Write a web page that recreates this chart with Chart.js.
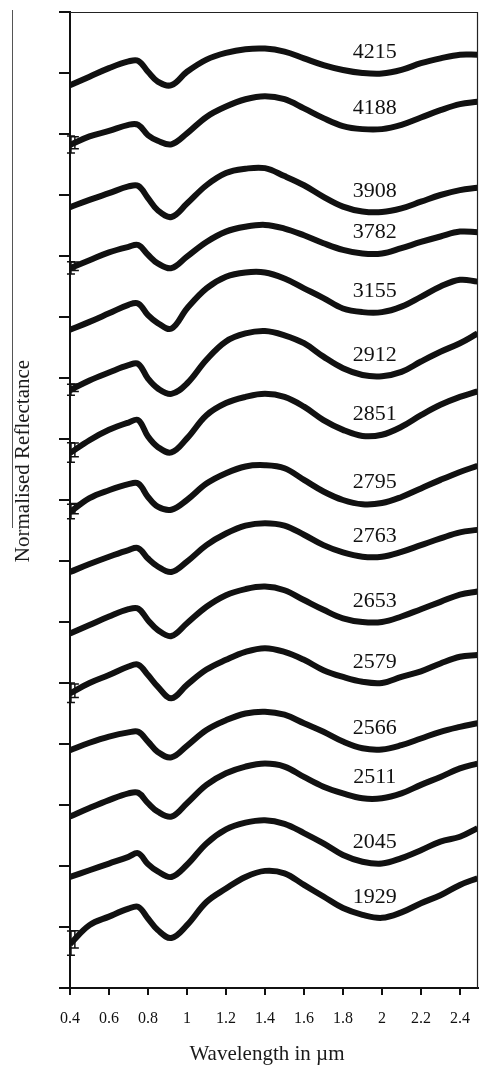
<!DOCTYPE html>
<html>
<head>
<meta charset="utf-8">
<script src="https://cdn.jsdelivr.net/npm/chart.js@4.4.1/dist/chart.umd.min.js"></script>
<style>
  html, body { margin: 0; padding: 0; background: #fff; }
  #wrap { width: 484px; height: 1065px; }
</style>
</head>
<body>
<div id="wrap"><canvas id="c" width="484" height="1065"></canvas></div>
<script>
// Wavelength sampling (µm) shared by all spectra
const wavelengths = [0.4, 0.5, 0.6, 0.7, 0.75, 0.8, 0.85, 0.92, 1.0, 1.1, 1.2, 1.3, 1.4, 1.5, 1.6, 1.7, 1.8, 1.9, 2.0, 2.1, 2.2, 2.3, 2.4, 2.49];

// Normalised reflectance, each spectrum stacked one unit apart
const s4215 = [14.80, 14.94, 15.08, 15.19, 15.20, 15.02, 14.86, 14.80, 15.02, 15.22, 15.33, 15.39, 15.40, 15.35, 15.24, 15.13, 15.05, 15.00, 14.99, 15.05, 15.16, 15.24, 15.30, 15.30];
const s4188 = [13.82, 13.96, 14.05, 14.15, 14.15, 13.98, 13.89, 13.83, 14.01, 14.28, 14.45, 14.57, 14.62, 14.57, 14.42, 14.26, 14.13, 14.08, 14.08, 14.15, 14.27, 14.39, 14.49, 14.53];
const s3908 = [12.80, 12.92, 13.03, 13.14, 13.15, 12.95, 12.75, 12.64, 12.86, 13.16, 13.36, 13.43, 13.44, 13.31, 13.16, 12.97, 12.81, 12.73, 12.72, 12.78, 12.89, 13.00, 13.08, 13.12];
const s3782 = [11.80, 11.93, 12.06, 12.15, 12.18, 12.02, 11.88, 11.80, 11.99, 12.23, 12.40, 12.48, 12.51, 12.45, 12.34, 12.21, 12.10, 12.04, 12.04, 12.13, 12.23, 12.32, 12.40, 12.39];
const s3155 = [10.79, 10.92, 11.06, 11.20, 11.22, 11.03, 10.90, 10.81, 11.14, 11.47, 11.66, 11.73, 11.73, 11.63, 11.47, 11.31, 11.14, 11.08, 11.08, 11.17, 11.33, 11.50, 11.61, 11.58];
const s2912 = [9.80, 9.96, 10.09, 10.21, 10.23, 9.99, 9.83, 9.74, 9.91, 10.30, 10.60, 10.73, 10.77, 10.70, 10.57, 10.35, 10.16, 10.05, 10.03, 10.10, 10.27, 10.43, 10.57, 10.73];
const s2851 = [8.77, 8.98, 9.15, 9.27, 9.31, 9.04, 8.87, 8.78, 9.01, 9.39, 9.59, 9.69, 9.74, 9.69, 9.53, 9.31, 9.15, 9.05, 9.07, 9.20, 9.39, 9.56, 9.69, 9.78];
const s2795 = [7.80, 8.03, 8.16, 8.26, 8.27, 8.05, 7.89, 7.84, 8.00, 8.27, 8.44, 8.55, 8.57, 8.52, 8.33, 8.14, 8.00, 7.93, 7.95, 8.05, 8.19, 8.33, 8.46, 8.56];
const s2763 = [6.82, 6.95, 7.07, 7.18, 7.21, 7.04, 6.91, 6.82, 6.99, 7.26, 7.45, 7.58, 7.62, 7.58, 7.43, 7.26, 7.14, 7.07, 7.07, 7.15, 7.26, 7.37, 7.47, 7.51];
const s2653 = [5.81, 5.95, 6.09, 6.21, 6.22, 6.03, 5.87, 5.77, 5.98, 6.25, 6.44, 6.54, 6.58, 6.52, 6.36, 6.20, 6.06, 6.00, 6.00, 6.09, 6.21, 6.33, 6.45, 6.50];
const s2579 = [4.83, 5.00, 5.13, 5.27, 5.30, 5.13, 4.94, 4.75, 4.97, 5.22, 5.38, 5.51, 5.57, 5.51, 5.38, 5.21, 5.10, 5.02, 5.00, 5.10, 5.19, 5.32, 5.43, 5.46];
const s2566 = [3.90, 4.02, 4.12, 4.19, 4.20, 4.04, 3.87, 3.78, 3.97, 4.23, 4.39, 4.50, 4.53, 4.48, 4.34, 4.20, 4.04, 3.93, 3.91, 3.98, 4.09, 4.20, 4.28, 4.34];
const s2511 = [2.81, 2.95, 3.08, 3.19, 3.20, 3.03, 2.89, 2.81, 3.03, 3.33, 3.52, 3.63, 3.68, 3.63, 3.46, 3.30, 3.19, 3.11, 3.11, 3.19, 3.33, 3.46, 3.60, 3.68];
const s2045 = [1.82, 1.93, 2.04, 2.15, 2.21, 2.03, 1.91, 1.82, 2.02, 2.37, 2.60, 2.71, 2.75, 2.69, 2.54, 2.37, 2.18, 2.07, 2.04, 2.13, 2.26, 2.40, 2.48, 2.62];
const s1929 = [0.72, 1.03, 1.17, 1.30, 1.33, 1.14, 0.95, 0.82, 1.03, 1.41, 1.63, 1.82, 1.92, 1.88, 1.69, 1.50, 1.31, 1.20, 1.15, 1.24, 1.39, 1.52, 1.69, 1.80];

// Half-width of the uncertainty at the blue end (0.4 µm) of each spectrum
const blueEndError = [0.03, 0.14, 0.02, 0.10, 0.03, 0.09, 0.16, 0.12, 0.02, 0.02, 0.16, 0.02, 0.03, 0.03, 0.20];

const sampleIds = ['4215', '4188', '3908', '3782', '3155', '2912', '2851', '2795', '2763', '2653', '2579', '2566', '2511', '2045', '1929'];
const spectra = [s4215, s4188, s3908, s3782, s3155, s2912, s2851, s2795, s2763, s2653, s2579, s2566, s2511, s2045, s1929];

const xTickLabels = ['0.4', '0.6', '0.8', '1', '1.2', '1.4', '1.6', '1.8', '2', '2.2', '2.4'];

const SERIF = '"Liberation Serif", "Times New Roman", serif';
const INK = '#111';

const datasets = spectra.map((vals, i) => ({
  label: sampleIds[i],
  data: wavelengths.map((w, k) => ({ x: w, y: vals[k] })),
  borderColor: INK,
  borderWidth: 6,
  pointRadius: 0,
  tension: 0.38,
  fill: false
}));

// Sample numbers, blue-end error bars, titles and the thin frame
const decorations = {
  id: 'decorations',
  afterDatasetsDraw(chart) {
    const { ctx, scales } = chart;
    const xs = scales.x, ys = scales.y;
    const labelX = xs.getPixelForValue(1.963);
    const refIdx = wavelengths.indexOf(2.0);
    ctx.save();
    // error bars at the first samples
    ctx.strokeStyle = INK;
    ctx.lineWidth = 1.5;
    spectra.forEach((vals, i) => {
      const e = blueEndError[i];
      if (e < 0.05) return;
      [0.405, 0.425].forEach((w, j) => {
        const v = vals[0] + (vals[1] - vals[0]) * (w - 0.4) / 0.1;
        const px = xs.getPixelForValue(w);
        const hi = ys.getPixelForValue(v + e * (1 - 0.3 * j));
        const lo = ys.getPixelForValue(v - e * (1 - 0.3 * j));
        ctx.beginPath();
        ctx.moveTo(px, hi); ctx.lineTo(px, lo);
        ctx.moveTo(px - 4, hi); ctx.lineTo(px + 4, hi);
        ctx.moveTo(px - 4, lo); ctx.lineTo(px + 4, lo);
        ctx.stroke();
      });
    });
    // sample numbers
    ctx.fillStyle = INK;
    ctx.font = '22px ' + SERIF;
    ctx.textAlign = 'center';
    ctx.textBaseline = 'middle';
    sampleIds.forEach((id, i) => {
      const y = ys.getPixelForValue(spectra[i][refIdx]) - 21;
      ctx.fillText(id, labelX, y);
    });
    ctx.restore();
  },
  afterDraw(chart) {
    const { ctx, chartArea } = chart;
    ctx.save();
    // thin top and right frame
    ctx.strokeStyle = '#222';
    ctx.lineWidth = 1.2;
    ctx.beginPath();
    ctx.moveTo(chartArea.left, chartArea.top + 0.5);
    ctx.lineTo(chartArea.right, chartArea.top + 0.5);
    ctx.lineTo(chartArea.right, chartArea.bottom);
    ctx.stroke();
    // rule beside the vertical title
    ctx.strokeStyle = '#555';
    ctx.lineWidth = 1;
    ctx.beginPath();
    ctx.moveTo(12.5, 10);
    ctx.lineTo(12.5, 528);
    ctx.stroke();
    // axis titles
    ctx.fillStyle = '#1a1a1a';
    ctx.font = '21px ' + SERIF;
    ctx.textAlign = 'center';
    ctx.textBaseline = 'middle';
    ctx.fillText('Wavelength in \u00b5m', 267, 1054);
    ctx.translate(23, 461);
    ctx.rotate(-Math.PI / 2);
    ctx.fillText('Normalised Reflectance', 0, 0);
    ctx.restore();
  }
};

new Chart(document.getElementById('c'), {
  type: 'line',
  data: { datasets },
  options: {
    responsive: false,
    animation: false,
    layout: { padding: { top: 12, right: 1, left: 0, bottom: 0 } },
    plugins: { legend: { display: false }, tooltip: { enabled: false } },
    scales: {
      x: {
        type: 'linear',
        min: 0.4,
        max: 2.49,
        afterFit(scale) { scale.height = 77; },
        afterBuildTicks(scale) {
          scale.ticks = xTickLabels.map(t => ({ value: parseFloat(t) }));
        },
        ticks: {
          color: INK,
          font: { family: SERIF, size: 16 },
          padding: 14,
          maxRotation: 0,
          autoSkip: false,
          callback: (v, i) => xTickLabels[i]
        },
        grid: { drawOnChartArea: false, drawTicks: true, tickLength: 7, color: INK, lineWidth: 2 },
        border: { color: INK, width: 2 },
        title: { display: false }
      },
      y: {
        type: 'linear',
        min: 0,
        max: 16,
        afterFit(scale) { scale.width = 70; },
        ticks: { display: false, stepSize: 1 },
        grid: { drawOnChartArea: false, drawTicks: true, tickLength: 11, color: INK, lineWidth: 2 },
        border: { color: INK, width: 2 },
        title: { display: false }
      }
    }
  },
  plugins: [decorations]
});
</script>
</body>
</html>
